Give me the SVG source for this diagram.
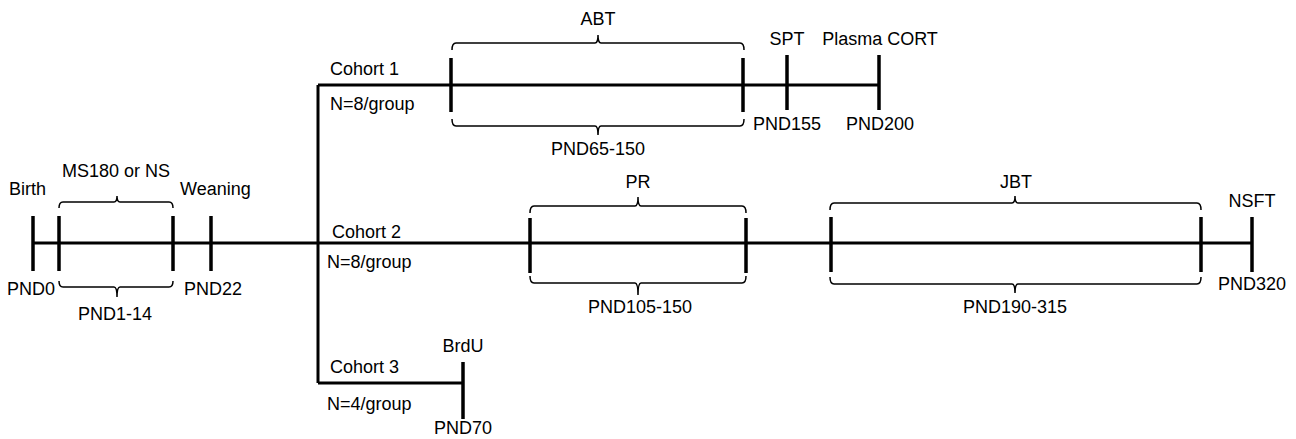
<svg xmlns="http://www.w3.org/2000/svg" width="1296" height="439" viewBox="0 0 1296 439">
<style>
text{font-family:"Liberation Sans",Arial,sans-serif;font-size:18px;fill:#000}
.m{text-anchor:middle}
.ln{stroke:#000;stroke-width:3;fill:none}
.tk{stroke:#000;stroke-width:3.5;fill:none}
.br{stroke:#000;stroke-width:1.5;fill:none}
</style>
<rect width="1296" height="439" fill="#fff"/>
<g id="connectors">
<path class="ln" d="M33 243H1252"/>
<path class="ln" d="M318 85V383"/>
<path class="ln" d="M318 85H879"/>
<path class="ln" d="M318 383H463"/>
</g>
<g id="birth"><path class="tk" d="M33 216V271"/><text x="9" y="195">Birth</text><text x="7" y="295">PND0</text></g>
<g id="ms180"><path class="tk" d="M59 216V271M173 216V271"/>
<path class="br" d="M59 208Q59 202 63 202H114Q117 202 117 196Q117 202 120 202H169Q173 202 173 208"/>
<path class="br" d="M59 281Q59 287 63 287H114Q117 287 117 297Q117 287 120 287H169Q173 287 173 281"/>
<text class="m" x="116" y="177">MS180 or NS</text><text class="m" x="115" y="320">PND1-14</text></g>
<g id="weaning"><path class="tk" d="M211 216V271"/><text x="180" y="195">Weaning</text><text x="184" y="295">PND22</text></g>
<g id="cohort1"><text x="330" y="75">Cohort 1</text><text x="330" y="110">N=8/group</text></g>
<g id="abt"><path class="tk" d="M451 58V112M743 58V112"/>
<path class="br" d="M452 50Q452 43 456 43H595Q598 43 598 35Q598 43 601 43H740Q744 43 744 50"/>
<path class="br" d="M452 119Q452 126 456 126H595Q598 126 598 135Q598 126 601 126H740Q744 126 744 119"/>
<text class="m" x="598" y="25">ABT</text><text class="m" x="598" y="155">PND65-150</text></g>
<g id="spt"><path class="tk" d="M787 55V110"/><text class="m" x="787" y="45">SPT</text><text class="m" x="787" y="130">PND155</text></g>
<g id="cort"><path class="tk" d="M879 55V110"/><text class="m" x="880" y="45">Plasma CORT</text><text class="m" x="880" y="130">PND200</text></g>
<g id="cohort2"><text x="332" y="238">Cohort 2</text><text x="327" y="268">N=8/group</text></g>
<g id="pr"><path class="tk" d="M530 218V273M746 218V273"/>
<path class="br" d="M530 213Q530 206 534 206H635Q638 206 638 197Q638 206 641 206H742Q746 206 746 213"/>
<path class="br" d="M530 276Q530 283 534 283H635Q638 283 638 295Q638 283 641 283H742Q746 283 746 276"/>
<text class="m" x="638" y="188">PR</text><text class="m" x="640" y="313">PND105-150</text></g>
<g id="jbt"><path class="tk" d="M831 217V272M1201 217V272"/>
<path class="br" d="M830 210Q830 203 834 203H1012Q1015 203 1015 196Q1015 203 1018 203H1197Q1201 203 1201 210"/>
<path class="br" d="M830 277Q830 284 834 284H1012Q1015 284 1015 293Q1015 284 1018 284H1197Q1201 284 1201 277"/>
<text class="m" x="1016" y="188">JBT</text><text class="m" x="1015" y="313">PND190-315</text></g>
<g id="nsft"><path class="tk" d="M1252 217V272"/><text class="m" x="1252" y="207">NSFT</text><text class="m" x="1252" y="290">PND320</text></g>
<g id="cohort3"><text x="330" y="373">Cohort 3</text><text x="327" y="410">N=4/group</text></g>
<g id="brdu"><path class="tk" d="M463 362V419"/><text class="m" x="463" y="434">PND70</text><text class="m" x="463" y="352">BrdU</text></g>
</svg>
